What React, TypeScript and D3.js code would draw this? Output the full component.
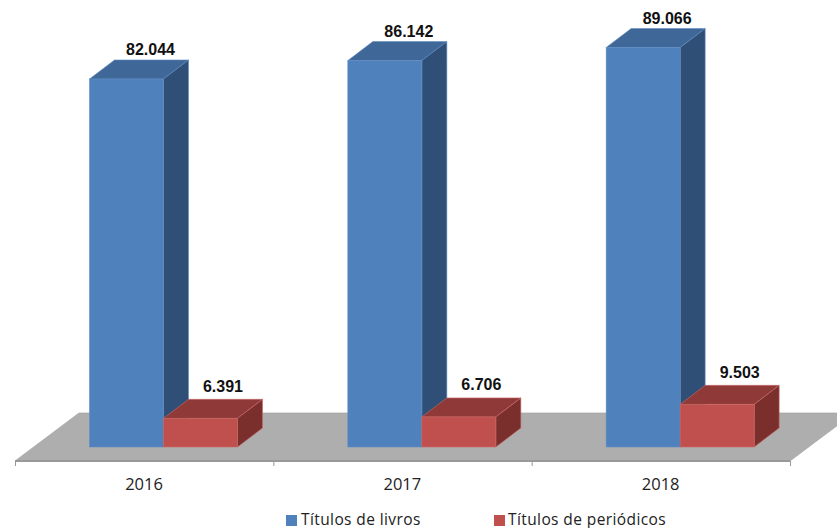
import React from "react";
import * as d3 from "d3";

const categories = ["2016", "2017", "2018"];
const livros = [82044, 86142, 89066];
const periodicos = [6391, 6706, 9503];
const seriesNames = ["Títulos de livros", "Títulos de periódicos"];
const labelsLivros = ["82.044", "86.142", "89.066"];
const labelsPeriodicos = ["6.391", "6.706", "9.503"];

const W = 837, H = 528;
const DX = 25, DY = 19;
const BAR = 74;
const FRONT_Y = 447;
const AXIS_Y = 461;

const x = d3.scaleBand().domain(categories).range([15, 790]);
const y = d3.scaleLinear().domain([0, 89066]).range([FRONT_Y, 47.5]);

const pts = (p: number[][]) => p.map((a) => a.join(",")).join(" ");

function Bar({ x0, v, front, top, side, stroke }: any) {
  const t = y(v);
  const x1 = x0 + BAR;
  return (
    <g>
      <polygon points={pts([[x0, t], [x0 + DX, t - DY], [x1 + DX, t - DY], [x1, t]])} fill={top} stroke={stroke} strokeWidth={0.6} />
      <polygon points={pts([[x1, t], [x1 + DX, t - DY], [x1 + DX, FRONT_Y - DY], [x1, FRONT_Y]])} fill={side} stroke={stroke} strokeWidth={0.6} />
      <rect x={x0} y={t} width={BAR} height={FRONT_Y - t} fill={front} stroke={stroke} strokeWidth={0.6} />
    </g>
  );
}

export default function App() {
  const ticks = [...categories.map((c) => x(c) as number), 790];
  return (
    <svg width={W} height={H} style={{ position: "absolute", left: 0, top: 0, background: "#fff" }}>
      <polygon points={pts([[15, AXIS_Y], [79, 413], [854, 413], [790, AXIS_Y]])} fill="#aeaeae" stroke="#a4a4a4" strokeWidth={0.7} />
      <line x1={15} x2={790} y1={AXIS_Y} y2={AXIS_Y} stroke="#999" strokeWidth={2} />
      {ticks.map((t, i) => (
        <line key={i} x1={t + 0.5} x2={t + 0.5} y1={AXIS_Y} y2={AXIS_Y + 5} stroke="#999" strokeWidth={1} />
      ))}
      {categories.map((c, i) => {
        const x0 = (x(c) as number) + 74.5;
        const x2 = x0 + BAR;
        return (
          <g key={c}>
            <Bar x0={x0} v={livros[i]} front="#4f81bd" top="#3f6797" side="#2f4f77" stroke="#5f8cc2" />
            <Bar x0={x2} v={periodicos[i]} front="#c0504d" top="#8f3a38" side="#7a2f2d" stroke="#c96a67" />
            <text x={x0 + 61} y={y(livros[i]) - 23.5} textAnchor="middle" fontFamily="Liberation Sans" fontWeight="bold" fontSize={16} fill="#111">{labelsLivros[i]}</text>
            <text x={x2 + 59.5} y={y(periodicos[i]) - 26.5} textAnchor="middle" fontFamily="Liberation Sans" fontWeight="bold" fontSize={16} fill="#111">{labelsPeriodicos[i]}</text>
            <text x={(x(c) as number) + 129} y={490} textAnchor="middle" fontFamily="Open Sans" fontSize={16.5} fill="#222">{c}</text>
          </g>
        );
      })}
      <rect x={286} y={515} width={11} height={11} fill="#4f81bd" />
      <text x={301} y={525} fontFamily="Open Sans" fontSize={15.5} fill="#222" letterSpacing={0.4}>{seriesNames[0]}</text>
      <rect x={494} y={515} width={11} height={11} fill="#c0504d" />
      <text x={508} y={525} fontFamily="Open Sans" fontSize={15.5} fill="#222" letterSpacing={0.4}>{seriesNames[1]}</text>
    </svg>
  );
}
